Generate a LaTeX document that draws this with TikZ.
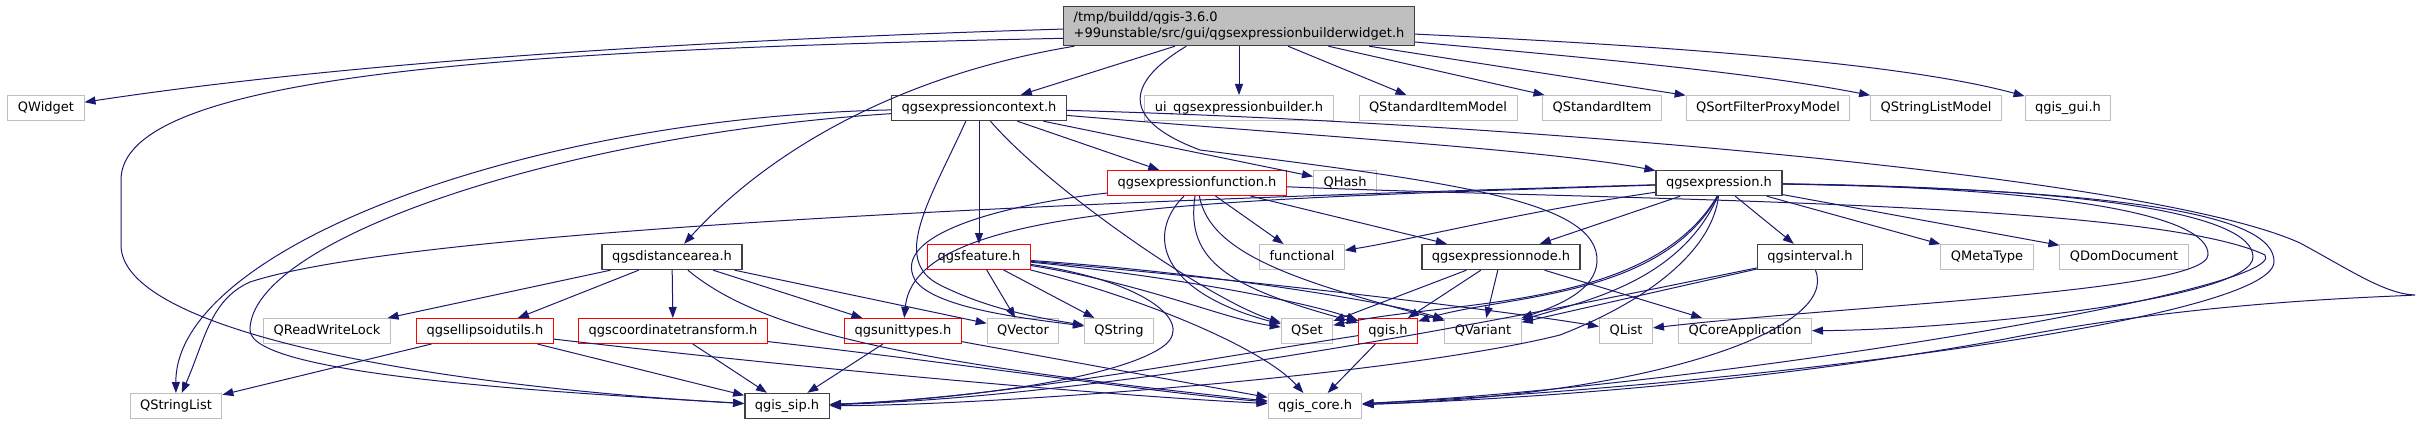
\documentclass[tikz,border=0pt]{standalone}
\usepackage{fontspec}
\setmainfont{DejaVu Sans}
\usetikzlibrary{arrows.meta}
\definecolor{edgeblue}{HTML}{191970}
\definecolor{boxgray}{HTML}{BFBFBF}
\definecolor{boxdark}{HTML}{404040}

\begin{document}
\begin{tikzpicture}[x=1pt,y=-1pt,
  every node/.style={font=\fontsize{13}{16}\selectfont, inner xsep=10pt, inner ysep=0pt, fill=white},
  leaf/.style={minimum height=25pt, text height=9.5pt, text depth=3pt},
  filebox/.style={leaf, draw=boxgray, line width=1pt},
  docbox/.style={leaf, draw=boxdark, line width=1.4pt},
  redbox/.style={leaf, draw=red, line width=1pt},
  rootbox/.style={draw=boxdark, fill=boxgray, line width=1.4pt, align=left, minimum height=39pt},
  incl/.style={draw=edgeblue, line width=1pt, -{Triangle[length=11pt,width=8pt]}}]
\useasboundingbox (0,0) rectangle (2421,425);

% header being documented
\node[rootbox] (root) at (1239,26) {/tmp/buildd/qgis-3.6.0\\+99unstable/src/gui/qgsexpressionbuilderwidget.h};

% first row
\node[filebox] (qwidget) at (46,108) {QWidget};
\node[docbox] (context) at (979,108) {qgsexpressioncontext.h};
\node[filebox] (uibuilder) at (1239,108) {ui\_qgsexpressionbuilder.h};
\node[filebox] (itemmodel) at (1438,108) {QStandardItemModel};
\node[filebox] (item) at (1602,108) {QStandardItem};
\node[filebox] (proxymodel) at (1768,108) {QSortFilterProxyModel};
\node[filebox] (listmodel) at (1936,108) {QStringListModel};
\node[filebox] (qgisgui) at (2068,108) {qgis\_gui.h};

% second row
\node[redbox] (function) at (1197,183) {qgsexpressionfunction.h};
\node[filebox] (qhash) at (1345,183) {QHash};
\node[docbox] (expression) at (1719,183) {qgsexpression.h};

% third row
\node[docbox] (distance) at (672,257) {qgsdistancearea.h};
\node[redbox] (feature) at (979,257) {qgsfeature.h};
\node[filebox] (functional) at (1302,257) {functional};
\node[docbox] (exprnode) at (1501,257) {qgsexpressionnode.h};
\node[docbox] (interval) at (1810,257) {qgsinterval.h};
\node[filebox] (metatype) at (1987,257) {QMetaType};
\node[filebox] (domdoc) at (2124,257) {QDomDocument};

% fourth row
\node[filebox] (rwlock) at (327,331) {QReadWriteLock};
\node[redbox] (ellipsoid) at (485,331) {qgsellipsoidutils.h};
\node[redbox] (coordtrans) at (673,331) {qgscoordinatetransform.h};
\node[redbox] (unittypes) at (903,331) {qgsunittypes.h};
\node[filebox] (qvector) at (1023,331) {QVector};
\node[filebox] (qstring) at (1119,331) {QString};
\node[filebox] (qset) at (1307,331) {QSet};
\node[redbox] (qgis) at (1388,331) {qgis.h};
\node[filebox] (qvariant) at (1483,331) {QVariant};
\node[filebox] (qlist) at (1626,331) {QList};
\node[filebox] (coreapp) at (1745,331) {QCoreApplication};

% last row
\node[filebox] (stringlist) at (176,406) {QStringList};
\node[docbox] (qgissip) at (787,406) {qgis\_sip.h};
\node[filebox] (qgiscore) at (1315,406) {qgis\_core.h};

% includes of the widget header
\draw[incl] (root.181) .. controls (700,40) and (350,62) .. (qwidget);
\draw[incl] (root.184) .. controls (500,50) and (121,75) .. (121,180) -- (121,245) .. controls (121,330) and (420,385) .. (qgissip);
\draw[incl] (root.187) .. controls (900,75) and (770,150) .. (distance);
\draw[incl] (root) -- (context);
\draw[incl] (root) -- (uibuilder);
\draw[incl] (root) -- (itemmodel);
\draw[incl] (root) -- (item);
\draw[incl] (root) -- (proxymodel);
\draw[incl] (root) .. controls (1590,58) and (1750,72) .. (listmodel);
\draw[incl] (root) .. controls (1650,45) and (1900,62) .. (qgisgui);
\draw[incl] (root.201) .. controls (1130,80) and (1115,118) .. (1200,150) .. controls (1450,182) and (1600,200) .. (1597,262) .. controls (1595,290) and (1560,305) .. (qvariant);

% qgsexpressioncontext.h
\draw[incl] (context) .. controls (520,118) and (175,250) .. (stringlist);
\draw[incl] (context) .. controls (560,135) and (250,240) .. (250,330) .. controls (250,375) and (550,392) .. (qgissip);
\draw[incl] (context) -- (feature);
\draw[incl] (context) -- (function);
\draw[incl] (context) -- (qhash);
\draw[incl] (context) .. controls (1050,190) and (1210,300) .. (qset);
\draw[incl] (context.225) .. controls (930,200) and (890,260) .. (940,285) .. controls (990,310) and (1040,318) .. (qstring);
\draw[incl] (context) .. controls (1300,135) and (1550,150) .. (expression);
\draw[incl] (context) .. controls (1500,122) and (2150,175) .. (2300,243) .. controls (2350,270) and (2385,294) .. (2415,295) .. controls (2390,297) and (2200,300) .. (2000,340) .. controls (1750,385) and (1500,400) .. (qgiscore);

% qgsexpressionfunction.h
\draw[incl] (function) .. controls (1000,205) and (890,235) .. (915,280) .. controls (935,310) and (1040,320) .. (qstring);
\draw[incl] (function) .. controls (1145,235) and (1160,292) .. (qset);
\draw[incl] (function) .. controls (1185,262) and (1230,288) .. (qgis);
\draw[incl] (function) .. controls (1210,255) and (1300,282) .. (qvariant);
\draw[incl] (function) -- (functional);
\draw[incl] (function) -- (exprnode);
\draw[incl] (function) .. controls (1600,200) and (2150,200) .. (2265,255) .. controls (2290,290) and (1720,385) .. (qgiscore);

% qgsexpression.h
\draw[incl] (expression) .. controls (1000,203) and (400,233) .. (250,282) .. controls (210,300) and (205,340) .. (stringlist);
\draw[incl] (expression) .. controls (1200,200) and (915,205) .. (unittypes);
\draw[incl] (expression) .. controls (1520,212) and (1410,240) .. (functional);
\draw[incl] (expression) -- (exprnode);
\draw[incl] (expression.262) .. controls (1650,310) and (1450,300) .. (qset);
\draw[incl] (expression.264) .. controls (1660,300) and (1500,295) .. (qgis);
\draw[incl] (expression.266) .. controls (1680,280) and (1590,300) .. (qvariant);
\draw[incl] (expression) -- (interval);
\draw[incl] (expression) -- (metatype);
\draw[incl] (expression) -- (domdoc);
\draw[incl] (expression) .. controls (2060,188) and (2210,215) .. (2208,255) .. controls (2206,292) and (1850,305) .. (qlist);
\draw[incl] (expression) .. controls (2100,188) and (2253,215) .. (2253,257) .. controls (2253,300) and (1950,330) .. (coreapp);
\draw[incl] (expression) .. controls (2130,190) and (2275,215) .. (2274,262) .. controls (2272,320) and (1750,385) .. (qgiscore);
\draw[incl] (expression.268) .. controls (1712,250) and (1650,300) .. (1560,335) .. controls (1400,375) and (1000,405) .. (qgissip);

% qgsdistancearea.h
\draw[incl] (distance) -- (rwlock);
\draw[incl] (distance) -- (ellipsoid);
\draw[incl] (distance) -- (coordtrans);
\draw[incl] (distance) -- (unittypes);
\draw[incl] (distance) -- (qvector);
\draw[incl] (distance) .. controls (760,330) and (900,362) .. (qgiscore);

% qgsfeature.h
\draw[incl] (feature) -- (qvector);
\draw[incl] (feature) -- (qstring);
\draw[incl] (feature) .. controls (1150,285) and (1220,318) .. (qset);
\draw[incl] (feature) .. controls (1160,275) and (1300,300) .. (qgis);
\draw[incl] (feature) .. controls (1200,272) and (1380,300) .. (qvariant);
\draw[incl] (feature) .. controls (1250,280) and (1500,310) .. (qlist);
\draw[incl] (feature) .. controls (1150,300) and (1265,350) .. (qgiscore);
\draw[incl] (feature) .. controls (1140,280) and (1195,320) .. (1165,345) .. controls (1120,380) and (950,400) .. (qgissip);

% qgsexpressionnode.h
\draw[incl] (exprnode) -- (qset);
\draw[incl] (exprnode) -- (qgis);
\draw[incl] (exprnode) -- (qvariant);
\draw[incl] (exprnode) -- (coreapp);

% qgsinterval.h
\draw[incl] (interval) -- (qvariant);
\draw[incl] (interval) .. controls (1600,300) and (1150,395) .. (qgissip);
\draw[incl] (interval) .. controls (1840,330) and (1650,395) .. (qgiscore);

% the rest
\draw[incl] (ellipsoid) -- (stringlist);
\draw[incl] (ellipsoid) -- (qgissip);
\draw[incl] (ellipsoid) .. controls (800,368) and (1100,395) .. (qgiscore);
\draw[incl] (coordtrans) -- (qgissip);
\draw[incl] (coordtrans) .. controls (950,362) and (1150,392) .. (qgiscore);
\draw[incl] (unittypes) -- (qgissip);
\draw[incl] (unittypes) -- (qgiscore);
\draw[incl] (qgis) .. controls (1200,360) and (1000,398) .. (qgissip);
\draw[incl] (qgis) -- (qgiscore);
\end{tikzpicture}
\end{document}
